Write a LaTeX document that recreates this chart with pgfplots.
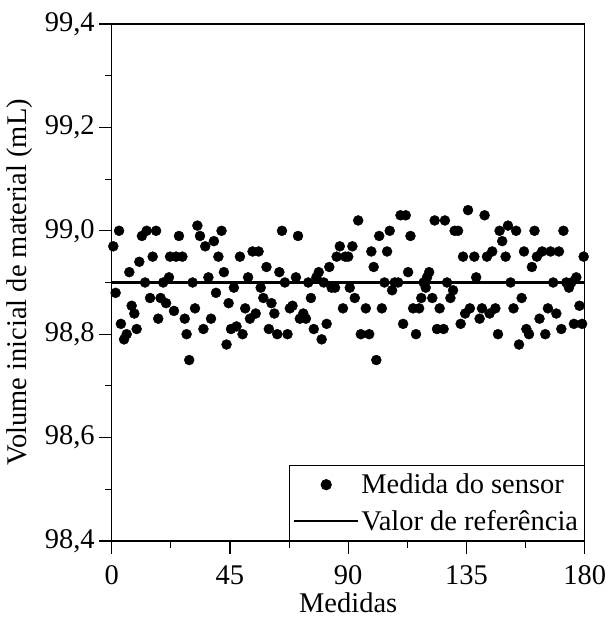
\documentclass[border=0pt]{standalone}
\usepackage{fontspec}
\setmainfont{Liberation Serif}
\usepackage{pgfplots}
\pgfplotsset{compat=1.18}
\newcommand{\bigfont}{\fontsize{28.5}{33}\selectfont}
\begin{document}
\begin{tikzpicture}
\begin{axis}[
  scale only axis,
  width=473pt, height=517pt,
  xmin=0, xmax=180, ymin=98.4, ymax=99.4,
  xtick={0,45,90,135,180},
  xticklabels={0,45,90,135,180},
  ytick={98.4,98.6,98.8,99.0,99.2,99.4},
  yticklabels={{98,4},{98,6},{98,8},{99,0},{99,2},{99,4}},
  minor x tick num=1, minor y tick num=1,
  tick align=outside,
  xtick pos=bottom, ytick pos=left,
  major tick length=12.5pt, minor tick length=6.5pt,
  every tick/.style={black, line width=1.1pt},
  axis line style={line width=1.3pt},
  tick label style={font=\bigfont},
  xticklabel style={yshift=-9pt},
  yticklabel style={xshift=-1pt},
  label style={font=\bigfont},
  xlabel={Medidas},
  ylabel={Volume inicial de material (mL)},
  xlabel style={at={(axis description cs:0.5,-0.119)}, anchor=center, inner sep=1pt},
  ylabel style={at={(axis description cs:-0.1945,0.5)}, anchor=center},
  legend style={at={(1,0)}, anchor=south east, font=\bigfont, draw=black, line width=1.2pt,
    legend cell align=left, inner xsep=4pt, inner ysep=6.5pt, row sep=11pt},
  legend image code/.code={\draw[mark repeat=2,mark phase=2,#1] plot coordinates {(0pt,0pt) (32pt,0pt) (64pt,0pt)};},
]
\coordinate (bl) at (rel axis cs:0,0);
\coordinate (tr) at (rel axis cs:1,1);
\addplot[only marks, mark=*, mark size=5pt, black] coordinates {
(0.6,98.97) (1.5,98.88) (2.8,99.00) (3.5,98.82) (4.7,98.79) (5.7,98.80) (6.7,98.92) (7.6,98.855)
(8.6,98.84) (9.5,98.81) (10.5,98.94) (11.5,98.99) (12.7,98.90) (13.3,99.00) (14.6,98.87) (15.6,98.95)
(16.9,99.00) (17.7,98.83) (18.6,98.87) (19.6,98.90) (20.7,98.86) (21.8,98.91) (22.2,98.95) (23.7,98.845)
(24.5,98.95) (25.6,98.99) (26.9,98.95) (27.8,98.83) (28.5,98.80) (29.5,98.75) (30.8,98.90) (31.7,98.85)
(32.6,99.01) (33.6,98.99) (34.9,98.81) (35.6,98.97) (36.8,98.91) (37.8,98.83) (38.9,98.98) (39.7,98.88)
(40.6,98.95) (41.8,99.00) (42.7,98.92) (43.7,98.78) (44.5,98.86) (45.4,98.81) (46.5,98.89) (47.5,98.815)
(48.8,98.95) (49.8,98.80) (50.8,98.85) (51.9,98.91) (52.6,98.83) (53.6,98.96) (54.8,98.84) (55.9,98.96)
(56.7,98.89) (57.7,98.87) (58.9,98.93) (59.8,98.81) (60.8,98.86) (61.9,98.84) (63.0,98.80) (63.8,98.92)
(64.8,99.00) (65.9,98.90) (66.9,98.80) (67.8,98.85) (68.8,98.855) (70.1,98.91) (70.9,98.99) (71.6,98.83)
(72.9,98.84) (73.9,98.83) (74.8,98.90) (75.8,98.87) (76.9,98.81) (77.9,98.91) (78.8,98.92) (79.9,98.79)
(80.7,98.90) (81.8,98.82) (82.8,98.93) (83.7,98.89) (85.0,98.89) (85.6,98.95) (86.8,98.97) (88.0,98.85)
(88.9,98.95) (90.0,98.95) (90.6,98.89) (91.6,98.97) (92.5,98.87) (93.8,99.02) (94.8,98.80) (96.7,98.85)
(98.0,98.80) (98.8,98.96) (99.7,98.93) (100.7,98.75) (101.8,98.99) (102.8,98.85) (103.8,98.90) (104.8,98.96)
(105.8,99.00) (106.7,98.885) (107.7,98.90) (109.0,98.90) (109.9,99.03) (110.9,98.82) (111.9,99.03) (112.8,98.92)
(113.7,98.99) (114.7,98.85) (115.8,98.80) (117.0,98.85) (117.8,98.87) (118.7,98.90) (119.5,98.89) (120.0,98.91)
(120.8,98.92) (122.0,98.87) (122.9,99.02) (123.8,98.81) (124.8,98.85) (126.3,98.81) (126.8,99.02) (127.6,98.90)
(128.9,98.87) (129.9,98.885) (130.5,99.00) (131.8,99.00) (132.8,98.82) (133.7,98.95) (134.5,98.84) (135.6,99.04)
(136.3,98.85) (138.0,98.95) (138.7,98.91) (140.0,98.83) (140.9,98.85) (141.9,99.03) (142.8,98.95) (143.8,98.84)
(144.8,98.96) (146.0,98.85) (147.0,98.80) (147.6,99.00) (148.6,98.98) (149.9,98.95) (150.8,99.01) (151.8,98.90)
(152.9,98.85) (153.9,99.00) (155.0,98.78) (156.0,98.87) (156.9,98.96) (157.8,98.81) (158.8,98.80) (159.9,98.93)
(160.9,99.00) (161.8,98.95) (162.8,98.83) (163.8,98.96) (165.0,98.80) (166.0,98.85) (167.0,98.96) (168.0,98.90)
(169.2,98.84) (170.2,98.96) (171.1,98.81) (171.9,99.00) (173.0,98.90) (174.0,98.89) (174.9,98.90) (175.9,98.82)
(176.8,98.91) (178.0,98.855) (179.0,98.82) (179.6,98.95)
};
\addlegendentry{Medida do sensor}
\addplot[black, line width=2.2pt, mark=none] coordinates {(0,98.9) (180,98.9)};
\addlegendentry{Valor de referência}
\end{axis}
\pgfresetboundingbox
\path ([shift={(-111.7pt,-76pt)}]bl) rectangle ([shift={(23pt,24pt)}]tr);
\end{tikzpicture}
\end{document}
